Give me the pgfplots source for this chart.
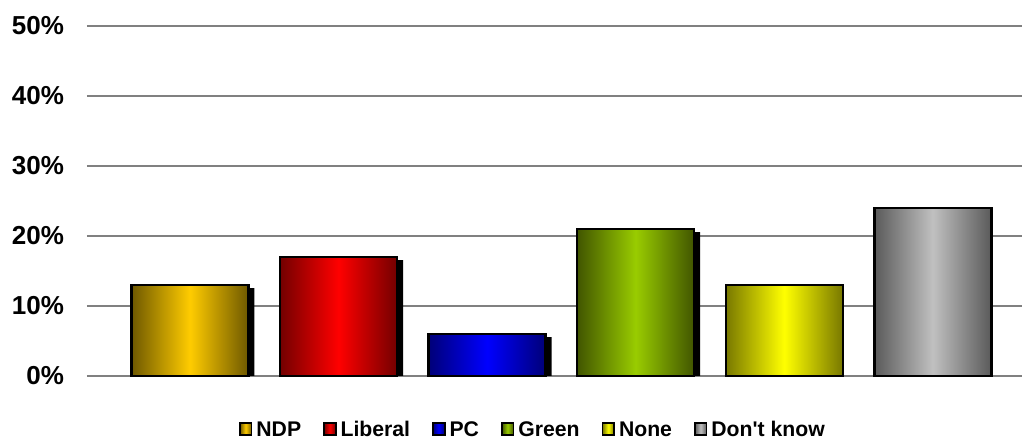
\documentclass[border=0pt]{standalone}
\usepackage{pgfplots}
\pgfplotsset{compat=1.18}
\usepackage{fontspec}
\setmainfont{Liberation Sans}

\definecolor{ndpD}{RGB}{110,88,0}
\definecolor{ndpL}{RGB}{255,204,0}
\definecolor{libD}{RGB}{115,0,0}
\definecolor{libL}{RGB}{255,0,0}
\definecolor{pcD}{RGB}{0,0,120}
\definecolor{pcL}{RGB}{0,0,255}
\definecolor{grnD}{RGB}{65,85,0}
\definecolor{grnL}{RGB}{153,204,0}
\definecolor{nonD}{RGB}{120,120,0}
\definecolor{nonL}{RGB}{255,255,0}
\definecolor{dkD}{RGB}{90,90,90}
\definecolor{dkL}{RGB}{192,192,192}

\pgfplotsset{
  mybar/.style={ybar, bar width=58.5pt, bar shift=0pt, draw=black, line width=1.2pt,
    legend image code/.code={\draw[##1, draw=black, line width=0.9pt] (0pt,-2.9pt) rectangle (5.8pt,2.9pt);}},
}

\begin{document}
\begin{tikzpicture}
\path[use as bounding box] (0,0) rectangle (512.5pt,219pt);
\begin{axis}[
  at={(43.5pt,31pt)}, anchor=south west,
  scale only axis, width=467.5pt, height=175pt,
  xmin=-0.693, xmax=5.6, ymin=0, ymax=50,
  axis line style={draw=none},
  xtick=\empty, ytick={0,10,...,50},
  major tick length=0pt,
  ymajorgrids, grid style={draw=black!50, line width=0.75pt},
  /pgf/number format/assume math mode=true,
  yticklabel={\pgfmathprintnumber{\tick}\%},
  yticklabel style={font=\bfseries\fontsize{13}{15}\selectfont, anchor=east, xshift=-8pt},
  legend columns=6,
  legend style={draw=none, fill=none, at={(0.478,-0.152)}, anchor=center,
    font=\bfseries\fontsize{10.6}{12}\selectfont,
    nodes={text height=0.72em, text depth=0.02em},
    /tikz/every even column/.append style={column sep=9pt}},
  clip=false,
]
% shadows
\addplot[ybar, bar width=58.5pt, bar shift=3pt, fill=black, draw=none, forget plot]
  coordinates {(0,12.55) (1,16.55) (2,5.55) (3,20.55)};
% bars
\addplot[mybar, left color=ndpD, right color=ndpD, middle color=ndpL] coordinates {(0,13)};
\addlegendentry{NDP}
\addplot[mybar, left color=libD, right color=libD, middle color=libL] coordinates {(1,17)};
\addlegendentry{Liberal}
\addplot[mybar, left color=pcD, right color=pcD, middle color=pcL] coordinates {(2,6)};
\addlegendentry{PC}
\addplot[mybar, left color=grnD, right color=grnD, middle color=grnL] coordinates {(3,21)};
\addlegendentry{Green}
\addplot[mybar, left color=nonD, right color=nonD, middle color=nonL] coordinates {(4,13)};
\addlegendentry{None}
\addplot[mybar, left color=dkD, right color=dkD, middle color=dkL] coordinates {(5,24)};
\addlegendentry{Don\textquotesingle t know}
\end{axis}
\end{tikzpicture}
\end{document}
